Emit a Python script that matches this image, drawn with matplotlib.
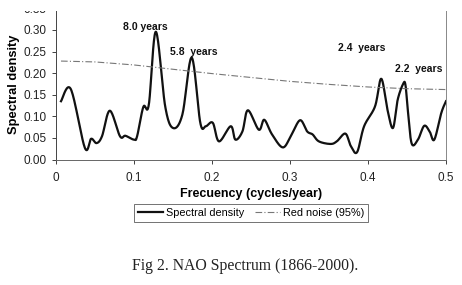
import matplotlib
matplotlib.use("Agg")
import matplotlib.pyplot as plt
import numpy as np
from matplotlib.patches import Rectangle

freq = [0.0064, 0.019, 0.037, 0.045, 0.052, 0.059, 0.069, 0.082, 0.089, 0.100, 0.104,
        0.112, 0.119, 0.128, 0.140, 0.150, 0.162, 0.174, 0.185, 0.192, 0.201, 0.209,
        0.224, 0.230, 0.239, 0.246, 0.260, 0.267, 0.277, 0.291, 0.302, 0.313, 0.322,
        0.329, 0.337, 0.352, 0.360, 0.371, 0.378, 0.386, 0.395, 0.409, 0.417, 0.425,
        0.432, 0.438, 0.445, 0.448, 0.451, 0.456, 0.464, 0.472, 0.479, 0.485, 0.494, 0.500]
density = [0.135, 0.163, 0.027, 0.048, 0.038, 0.054, 0.113, 0.054, 0.055, 0.046, 0.054,
           0.122, 0.127, 0.296, 0.123, 0.073, 0.104, 0.236, 0.085, 0.077, 0.085, 0.042,
           0.077, 0.046, 0.065, 0.114, 0.069, 0.092, 0.058, 0.028, 0.058, 0.091, 0.065,
           0.058, 0.042, 0.036, 0.042, 0.060, 0.031, 0.017, 0.077, 0.123, 0.187, 0.115,
           0.073, 0.138, 0.175, 0.173, 0.115, 0.037, 0.046, 0.078, 0.065, 0.046, 0.108, 0.135]

noise_freq = [0.0064, 0.05, 0.10, 0.15, 0.20, 0.25, 0.30, 0.35, 0.40, 0.45, 0.50]
noise_val = [0.228, 0.226, 0.219, 0.209, 0.199, 0.190, 0.181, 0.174, 0.168, 0.164, 0.162]

peak_labels = ["8.0 years", "5.8  years", "2.4  years", "2.2  years"]
peak_x = [0.114, 0.177, 0.392, 0.465]
peak_y = [0.307, 0.249, 0.259, 0.210]

xticks = [0, 0.1, 0.2, 0.3, 0.4, 0.5]
xticklabels = ["0", "0.1", "0.2", "0.3", "0.4", "0.5"]
yticks = [0.00, 0.05, 0.10, 0.15, 0.20, 0.25, 0.30, 0.35]

plt.rcParams['font.family'] = ['Liberation Sans', 'DejaVu Sans']

W, H = 462, 285
fig = plt.figure(figsize=(W / 100, H / 100), dpi=100)
ax = fig.add_axes([56 / W, 1 - 159.5 / H, (446 - 56) / W, (159.5 - 8.4) / H])

def catmull(x, y, n=20):
    px, py = [], []
    X = np.concatenate([[x[0]], x, [x[-1]]]); Y = np.concatenate([[y[0]], y, [y[-1]]])
    for i in range(1, len(X) - 2):
        t = np.linspace(0, 1, n, endpoint=False)
        for arr, out in ((X, px), (Y, py)):
            p0, p1, p2, p3 = arr[i-1], arr[i], arr[i+1], arr[i+2]
            out.extend(0.5 * ((2*p1) + (-p0 + p2)*t + (2*p0 - 5*p1 + 4*p2 - p3)*t**2
                              + (-p0 + 3*p1 - 3*p2 + p3)*t**3))
    px.append(x[-1]); py.append(y[-1])
    return np.array(px), np.array(py)

sx, sy = catmull(np.array(freq), np.array(density))
ax.plot(sx, sy, color='#111111', lw=1.6, label='Spectral density', solid_joinstyle='round')
ax.plot(noise_freq, noise_val, color='#777777', lw=0.8, ls=(0, (6, 2, 1, 2)), label='Red noise (95%)')

for t, x, y in zip(peak_labels, peak_x, peak_y):
    ax.text(x, y, t, ha='center', va='center', fontsize=7.5, fontweight='bold', color='#111111')

ax.set_xlim(0, 0.5)
ax.set_ylim(0, 0.35)
ax.set_xticks(xticks)
ax.set_xticklabels(xticklabels)
ax.set_yticks(yticks)
ax.set_yticklabels([f"{v:.2f}" for v in yticks])
ax.tick_params(axis='both', labelsize=8.5, direction='out', length=3, width=0.6, colors='#222222')
ax.tick_params(axis='x', pad=6)
ax.spines['top'].set_visible(False)
ax.spines['left'].set_color('#444444'); ax.spines['left'].set_linewidth(0.7)
ax.spines['bottom'].set_color('#666666'); ax.spines['bottom'].set_linewidth(0.7)
ax.spines['right'].set_color('#888888'); ax.spines['right'].set_linewidth(0.7)

ax.set_xlabel('Frecuency (cycles/year)', fontsize=9, fontweight='bold', labelpad=3)
ax.set_ylabel('Spectral density', fontsize=9.3, fontweight='bold', labelpad=3)

leg = fig.legend(loc='center', bbox_to_anchor=(251 / W, 1 - 213 / H), ncol=2, fontsize=7.8,
                 frameon=True, fancybox=False, edgecolor='#333333', handlelength=2.3,
                 columnspacing=1.0, handletextpad=0.3, borderpad=0.35)
leg.get_frame().set_linewidth(0.6)

fig.text(245 / W, 1 - 266 / H, 'Fig 2. NAO Spectrum (1866-2000).', ha='center', va='center',
         fontsize=11.3, family=['Liberation Serif', 'DejaVu Serif'], color='#222222')

# the scanned figure is cropped just above the plot area
fig.patches.append(Rectangle((0, 1 - 10.5 / H), 1, 10.5 / H, transform=fig.transFigure,
                             facecolor='white', edgecolor='none', zorder=100))

fig.savefig('out.png', dpi=100)
